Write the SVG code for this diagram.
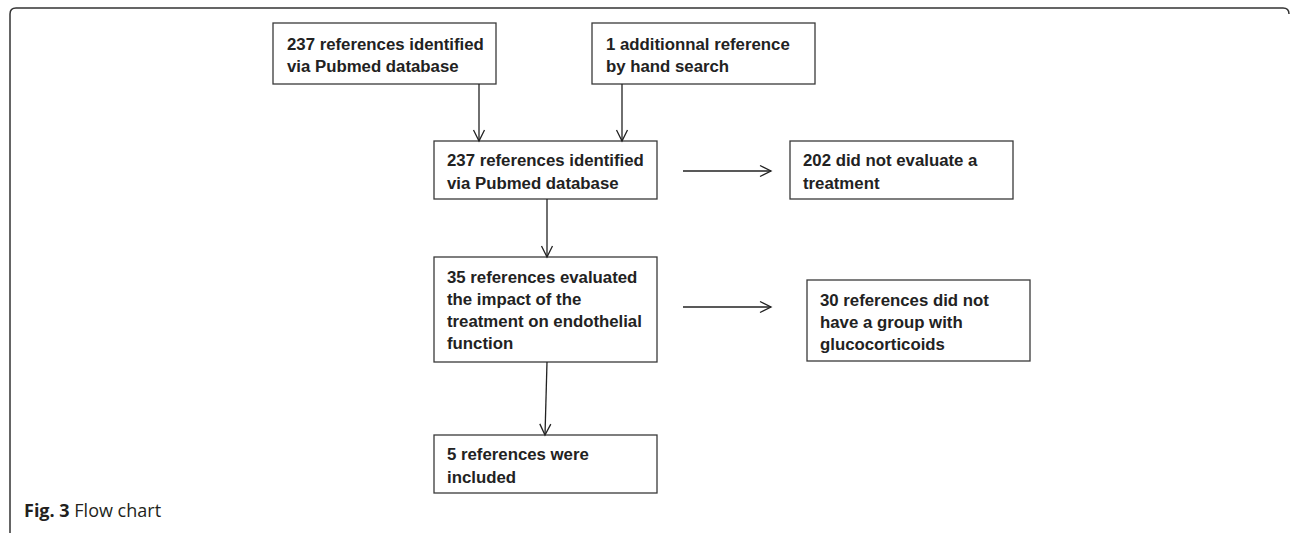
<svg xmlns="http://www.w3.org/2000/svg" width="1290" height="536" viewBox="0 0 1290 536">
<defs>
<style>
.box{fill:#fff;stroke:#3a3a3a;stroke-width:1.3}
.t{font-family:"Liberation Sans",Arial,sans-serif;font-weight:bold;font-size:16.8px;fill:#222}
.c{stroke:#222;stroke-width:1.3;fill:none;marker-end:url(#ah)}
.cap{font-family:"Open Sans","Noto Sans",sans-serif;font-size:18px;fill:#231f20}
</style>
<marker id="ah" markerUnits="userSpaceOnUse" markerWidth="14" markerHeight="14" viewBox="-12 -7 14 14" refX="0" refY="0" orient="auto">
<path d="M-11,-5.5 L0,0 L-11,5.5" fill="none" stroke="#222" stroke-width="1.3"/>
</marker>
</defs>
<rect width="1290" height="536" fill="#fff"/>
<path d="M10,533 L10,14 Q10,8 16,8 L1283,8 Q1289,8 1289,14" fill="none" stroke="#333" stroke-width="1.5"/>
<g id="n1"><rect class="box" x="273" y="23" width="223" height="61"/><text class="t" x="287" y="50">237 references identified</text><text class="t" x="287" y="72">via Pubmed database</text></g>
<g id="n2"><rect class="box" x="592" y="23" width="223" height="61"/><text class="t" x="606" y="50">1 additionnal reference</text><text class="t" x="606" y="72">by hand search</text></g>
<g id="n3"><rect class="box" x="434" y="141" width="223" height="58"/><text class="t" x="447" y="166">237 references identified</text><text class="t" x="447" y="189">via Pubmed database</text></g>
<g id="n4"><rect class="box" x="790" y="141" width="223" height="58"/><text class="t" x="803" y="166">202 did not evaluate a</text><text class="t" x="803" y="189">treatment</text></g>
<g id="n5"><rect class="box" x="434" y="257" width="223" height="105"/><text class="t" x="447" y="283">35 references evaluated</text><text class="t" x="447" y="305">the impact of the</text><text class="t" x="447" y="327">treatment on endothelial</text><text class="t" x="447" y="349">function</text></g>
<g id="n6"><rect class="box" x="807" y="280" width="223" height="81"/><text class="t" x="820" y="306">30 references did not</text><text class="t" x="820" y="328">have a group with</text><text class="t" x="820" y="350">glucocorticoids</text></g>
<g id="n7"><rect class="box" x="434" y="435" width="223" height="58"/><text class="t" x="447" y="460">5 references were</text><text class="t" x="447" y="483">included</text></g>
<g id="connectors">
<line class="c" x1="479" y1="84" x2="479" y2="141"/>
<line class="c" x1="622" y1="84" x2="622" y2="141"/>
<line class="c" x1="683" y1="171" x2="771" y2="171"/>
<line class="c" x1="547" y1="199" x2="547" y2="257"/>
<line class="c" x1="683" y1="307" x2="771" y2="307"/>
<line class="c" x1="547" y1="362" x2="545" y2="435"/>
</g>
<text class="cap" x="24" y="517"><tspan font-weight="bold">Fig. 3</tspan> Flow chart</text>
</svg>
